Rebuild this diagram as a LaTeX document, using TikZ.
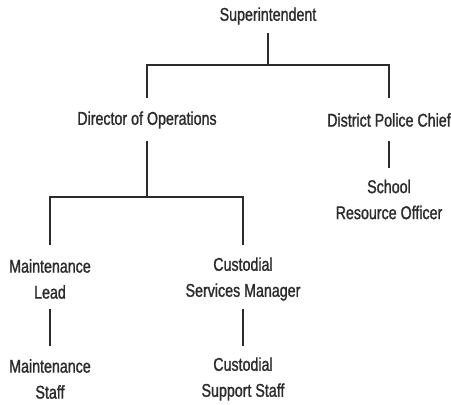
\documentclass[tikz,border=0pt]{standalone}
\usepackage{fontspec}
\setmainfont{Liberation Sans}[FakeStretch=0.77, FakeBold=1.2]
\definecolor{ink}{HTML}{2B2B2B}
\begin{document}
\begin{tikzpicture}[x=1pt,y=-1pt,
  role/.style={text=ink, align=center, inner sep=0pt,
    font=\fontsize{18.5}{26}\selectfont},
  link/.style={draw=ink, line width=1.2pt}]
\useasboundingbox (0,0) rectangle (451,405);

% positions
\node[role] (sup)    at (268,16)    {Superintendent};
\node[role] (dir)    at (147,120)   {Director of Operations};
\node[role] (pol)    at (389,120)   {District Police Chief};
\node[role] (sro)    at (389,199.5) {School\\Resource Officer};
\node[role] (mlead)  at (50,279)    {Maintenance\\Lead};
\node[role] (csm)    at (243,279)   {Custodial\\Services Manager};
\node[role] (mstaff) at (50,379)    {Maintenance\\Staff};
\node[role] (cstaff) at (243,379)   {Custodial\\Support Staff};

% bus junctions
\coordinate (b1) at (268,65);
\coordinate (b2) at (147,197);

% superintendent to directors
\draw[link] ([yshift=-17pt]sup.center) -- (b1);
\draw[link] ([yshift=22pt]dir.center) -- (dir.center |- b1) -- (pol.center |- b1) -- ([yshift=22pt]pol.center);

% police chief to resource officer
\draw[link] ([yshift=-21pt]pol.center) -- ([yshift=31.5pt]sro.center);

% director to facilities leads
\draw[link] ([yshift=-21pt]dir.center) -- (b2);
\draw[link] ([yshift=34pt]mlead.center) -- (mlead.center |- b2) -- (csm.center |- b2) -- ([yshift=34pt]csm.center);

% leads to staff
\draw[link] ([yshift=-30pt]mlead.center) -- ([yshift=33pt]mstaff.center);
\draw[link] ([yshift=-30pt]csm.center) -- ([yshift=33pt]cstaff.center);
\end{tikzpicture}
\end{document}
